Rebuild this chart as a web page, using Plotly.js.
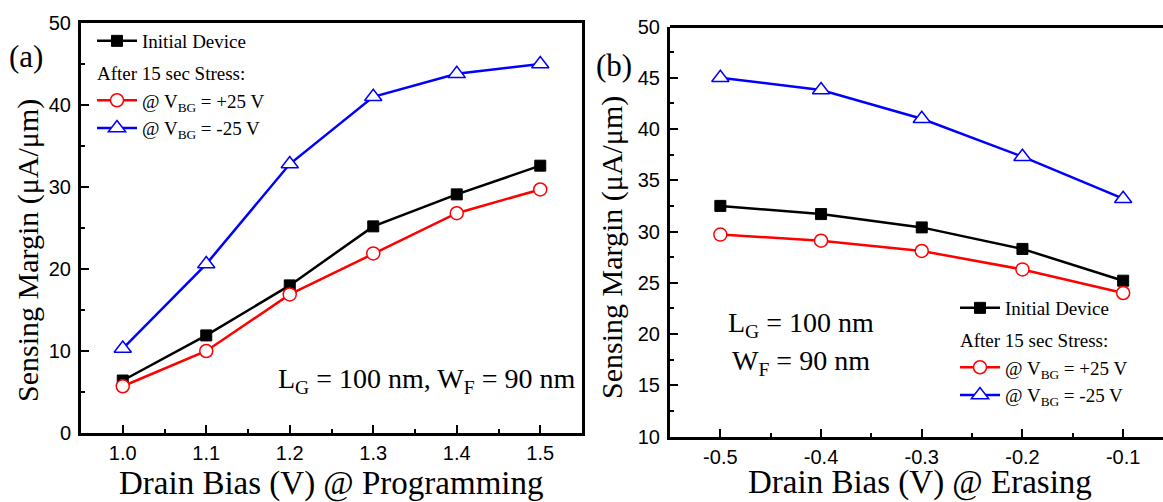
<!DOCTYPE html>
<html>
<head>
<meta charset="utf-8">
<script src="https://cdn.plot.ly/plotly-3.0.1.min.js"></script>
<style>html,body{margin:0;padding:0;background:#fff;}#chart{width:1163px;height:502px;}</style>
</head>
<body>
<div id="chart"></div>
<script>
// Panel (a): programming
const progBias = [1.0, 1.1, 1.2, 1.3, 1.4, 1.5];
const progInitial = [6.4, 11.9, 18.0, 25.2, 29.1, 32.6];
const progPlus25 = [5.7, 10.0, 16.9, 21.9, 26.8, 29.7];
const progMinus25 = [10.3, 20.6, 32.8, 41.0, 43.8, 45.0];
const progTicks = [1.0, 1.1, 1.2, 1.3, 1.4, 1.5];
const progTickText = ["1.0", "1.1", "1.2", "1.3", "1.4", "1.5"];

// Panel (b): erasing
const eraseBias = [-0.5, -0.4, -0.3, -0.2, -0.1];
const eraseInitial = [32.5, 31.7, 30.4, 28.3, 25.2];
const erasePlus25 = [29.7, 29.1, 28.1, 26.3, 24.0];
const eraseMinus25 = [45.0, 43.8, 41.0, 37.3, 33.2];
const eraseTicks = [-0.5, -0.4, -0.3, -0.2, -0.1];
const eraseTickText = ["-0.5", "-0.4", "-0.3", "-0.2", "-0.1"];

const names = ["Initial Device", "@ V<sub>BG</sub> = +25 V", "@ V<sub>BG</sub> = -25 V"];
const groupTitle = "After 15 sec Stress:";
const yTitle = "Sensing Margin (μA/μm)";
const xTitleA = "Drain Bias (V) @ Programming";
const xTitleB = "Drain Bias (V) @ Erasing";

const SERIF = '"Liberation Serif", "Times New Roman", serif';
const SANS = '"Liberation Sans", Arial, sans-serif';
const W = 1163, H = 502;

function styleFor(i) {
  if (i === 0) return {line: {color: '#000000', width: 2.5}, marker: {symbol: 'square', size: 11, color: '#000000', line: {color: '#000000', width: 1}}};
  if (i === 1) return {line: {color: '#ff0000', width: 2.5}, marker: {symbol: 'circle', size: 13, color: '#ffffff', line: {color: '#ff0000', width: 1.5}}};
  return {line: {color: '#0000ff', width: 2.5}, marker: {symbol: 'triangle-up', size: 15, color: '#ffffff', line: {color: '#0000ff', width: 1.5}}};
}

function makeTraces(xv, ys, xa, ya, leg) {
  return ys.map((y, i) => {
    const s = styleFor(i);
    const t = {
      x: xv, y: y, xaxis: xa, yaxis: ya, type: 'scatter', mode: 'lines+markers',
      name: names[i], line: s.line, marker: s.marker, legend: leg,
      legendgroup: leg + (i === 0 ? 'init' : 'stress')
    };
    if (i === 1) t.legendgrouptitle = {text: groupTitle, font: {family: SERIF, size: 19, color: '#000'}};
    return t;
  });
}

const data = [
  ...makeTraces(progBias, [progInitial, progPlus25, progMinus25], 'x', 'y', 'legend'),
  ...makeTraces(eraseBias, [eraseInitial, erasePlus25, eraseMinus25], 'x2', 'y2', 'legend2')
];

const axisCommon = {
  showline: true, linecolor: '#000', linewidth: 3, mirror: true,
  ticks: 'inside', ticklen: 8, tickwidth: 2, tickcolor: '#000',
  showgrid: false, zeroline: false,
  tickfont: {family: SANS, size: 20, color: '#000'}
};

const legendCommon = {
  xanchor: 'left', yanchor: 'top', itemwidth: 40,
  bgcolor: 'rgba(0,0,0,0)', borderwidth: 0, tracegroupgap: 4,
  traceorder: 'grouped', font: {family: SERIF, size: 19, color: '#000'}
};

const titleFont = {family: SERIF, size: 33, color: '#000'};

const layout = {
  width: W, height: H,
  margin: {l: 0, r: 0, t: 0, b: 0},
  paper_bgcolor: '#fff', plot_bgcolor: '#fff',
  showlegend: true,
  xaxis: Object.assign({}, axisCommon, {
    domain: [81 / W, 582 / W], range: [0.95, 1.55], anchor: 'y',
    tickvals: progTicks, ticktext: progTickText,
    minor: {dtick: 0.05, tick0: 0, ticks: 'inside', ticklen: 4, tickwidth: 2, tickcolor: '#000'}
  }),
  yaxis: Object.assign({}, axisCommon, {
    domain: [1 - 433 / H, 1 - 23 / H], range: [0, 50], anchor: 'x',
    tickvals: [0, 10, 20, 30, 40, 50], ticklabelstandoff: 3,
    minor: {dtick: 5, tick0: 0, ticks: 'inside', ticklen: 4, tickwidth: 2, tickcolor: '#000'}
  }),
  xaxis2: Object.assign({}, axisCommon, {
    domain: [670 / W, 1], range: [-0.55, -0.55 + (W - 670) / 1007], anchor: 'y2',
    mirror: false,
    tickvals: eraseTicks, ticktext: eraseTickText,
    minor: {dtick: 0.05, tick0: 0, ticks: 'inside', ticklen: 4, tickwidth: 2, tickcolor: '#000'}
  }),
  yaxis2: Object.assign({}, axisCommon, {
    domain: [1 - 436.5 / H, 1 - 26.5 / H], range: [10, 50], anchor: 'x2',
    mirror: false, ticklabelstandoff: 3,
    tickvals: [10, 15, 20, 25, 30, 35, 40, 45, 50],
    minor: {dtick: 2.5, tick0: 0, ticks: 'inside', ticklen: 4, tickwidth: 2, tickcolor: '#000'}
  }),
  legend: Object.assign({}, legendCommon, {x: 92 / W, y: 1 - 22 / H}),
  legend2: Object.assign({}, legendCommon, {x: 955 / W, y: 1 - 289 / H}),
  shapes: [
    {type: 'line', xref: 'x2 domain', yref: 'y2 domain', x0: 0, x1: 1, y0: 1, y1: 1, line: {color: '#000', width: 3}}
  ],
  annotations: [
    {text: xTitleA, xref: 'paper', yref: 'paper', x: 331 / W, y: 1 - 483 / H, xanchor: 'center', yanchor: 'middle', showarrow: false, font: titleFont},
    {text: xTitleB, xref: 'paper', yref: 'paper', x: 920 / W, y: 1 - 482 / H, xanchor: 'center', yanchor: 'middle', showarrow: false, font: titleFont},
    {text: yTitle, textangle: -90, xref: 'paper', yref: 'paper', x: 28 / W, y: 1 - 251 / H, xanchor: 'center', yanchor: 'middle', showarrow: false, font: {family: SERIF, size: 30, color: '#000'}},
    {text: yTitle, textangle: -90, xref: 'paper', yref: 'paper', x: 612 / W, y: 1 - 248 / H, xanchor: 'center', yanchor: 'middle', showarrow: false, font: {family: SERIF, size: 30, color: '#000'}},
    {text: '(a)', xref: 'paper', yref: 'paper', x: 26 / W, y: 1 - 56 / H, xanchor: 'center', yanchor: 'middle', showarrow: false, font: {family: SERIF, size: 31, color: '#000'}},
    {text: '(b)', xref: 'paper', yref: 'paper', x: 614 / W, y: 1 - 65 / H, xanchor: 'center', yanchor: 'middle', showarrow: false, font: {family: SERIF, size: 31, color: '#000'}},
    {text: 'L<sub>G</sub> = 100 nm, W<sub>F</sub> = 90 nm', xref: 'paper', yref: 'paper', x: 577 / W, y: 1 - 380 / H, xanchor: 'right', yanchor: 'middle', showarrow: false, font: {family: SERIF, size: 28, color: '#000'}},
    {text: 'L<sub>G</sub> = 100 nm', xref: 'paper', yref: 'paper', x: 801 / W, y: 1 - 324 / H, xanchor: 'center', yanchor: 'middle', showarrow: false, font: {family: SERIF, size: 28, color: '#000'}},
    {text: 'W<sub>F</sub> = 90 nm', xref: 'paper', yref: 'paper', x: 801 / W, y: 1 - 362 / H, xanchor: 'center', yanchor: 'middle', showarrow: false, font: {family: SERIF, size: 28, color: '#000'}}
  ]
};

Plotly.newPlot('chart', data, layout, {displayModeBar: false, staticPlot: true});
</script>
</body>
</html>
